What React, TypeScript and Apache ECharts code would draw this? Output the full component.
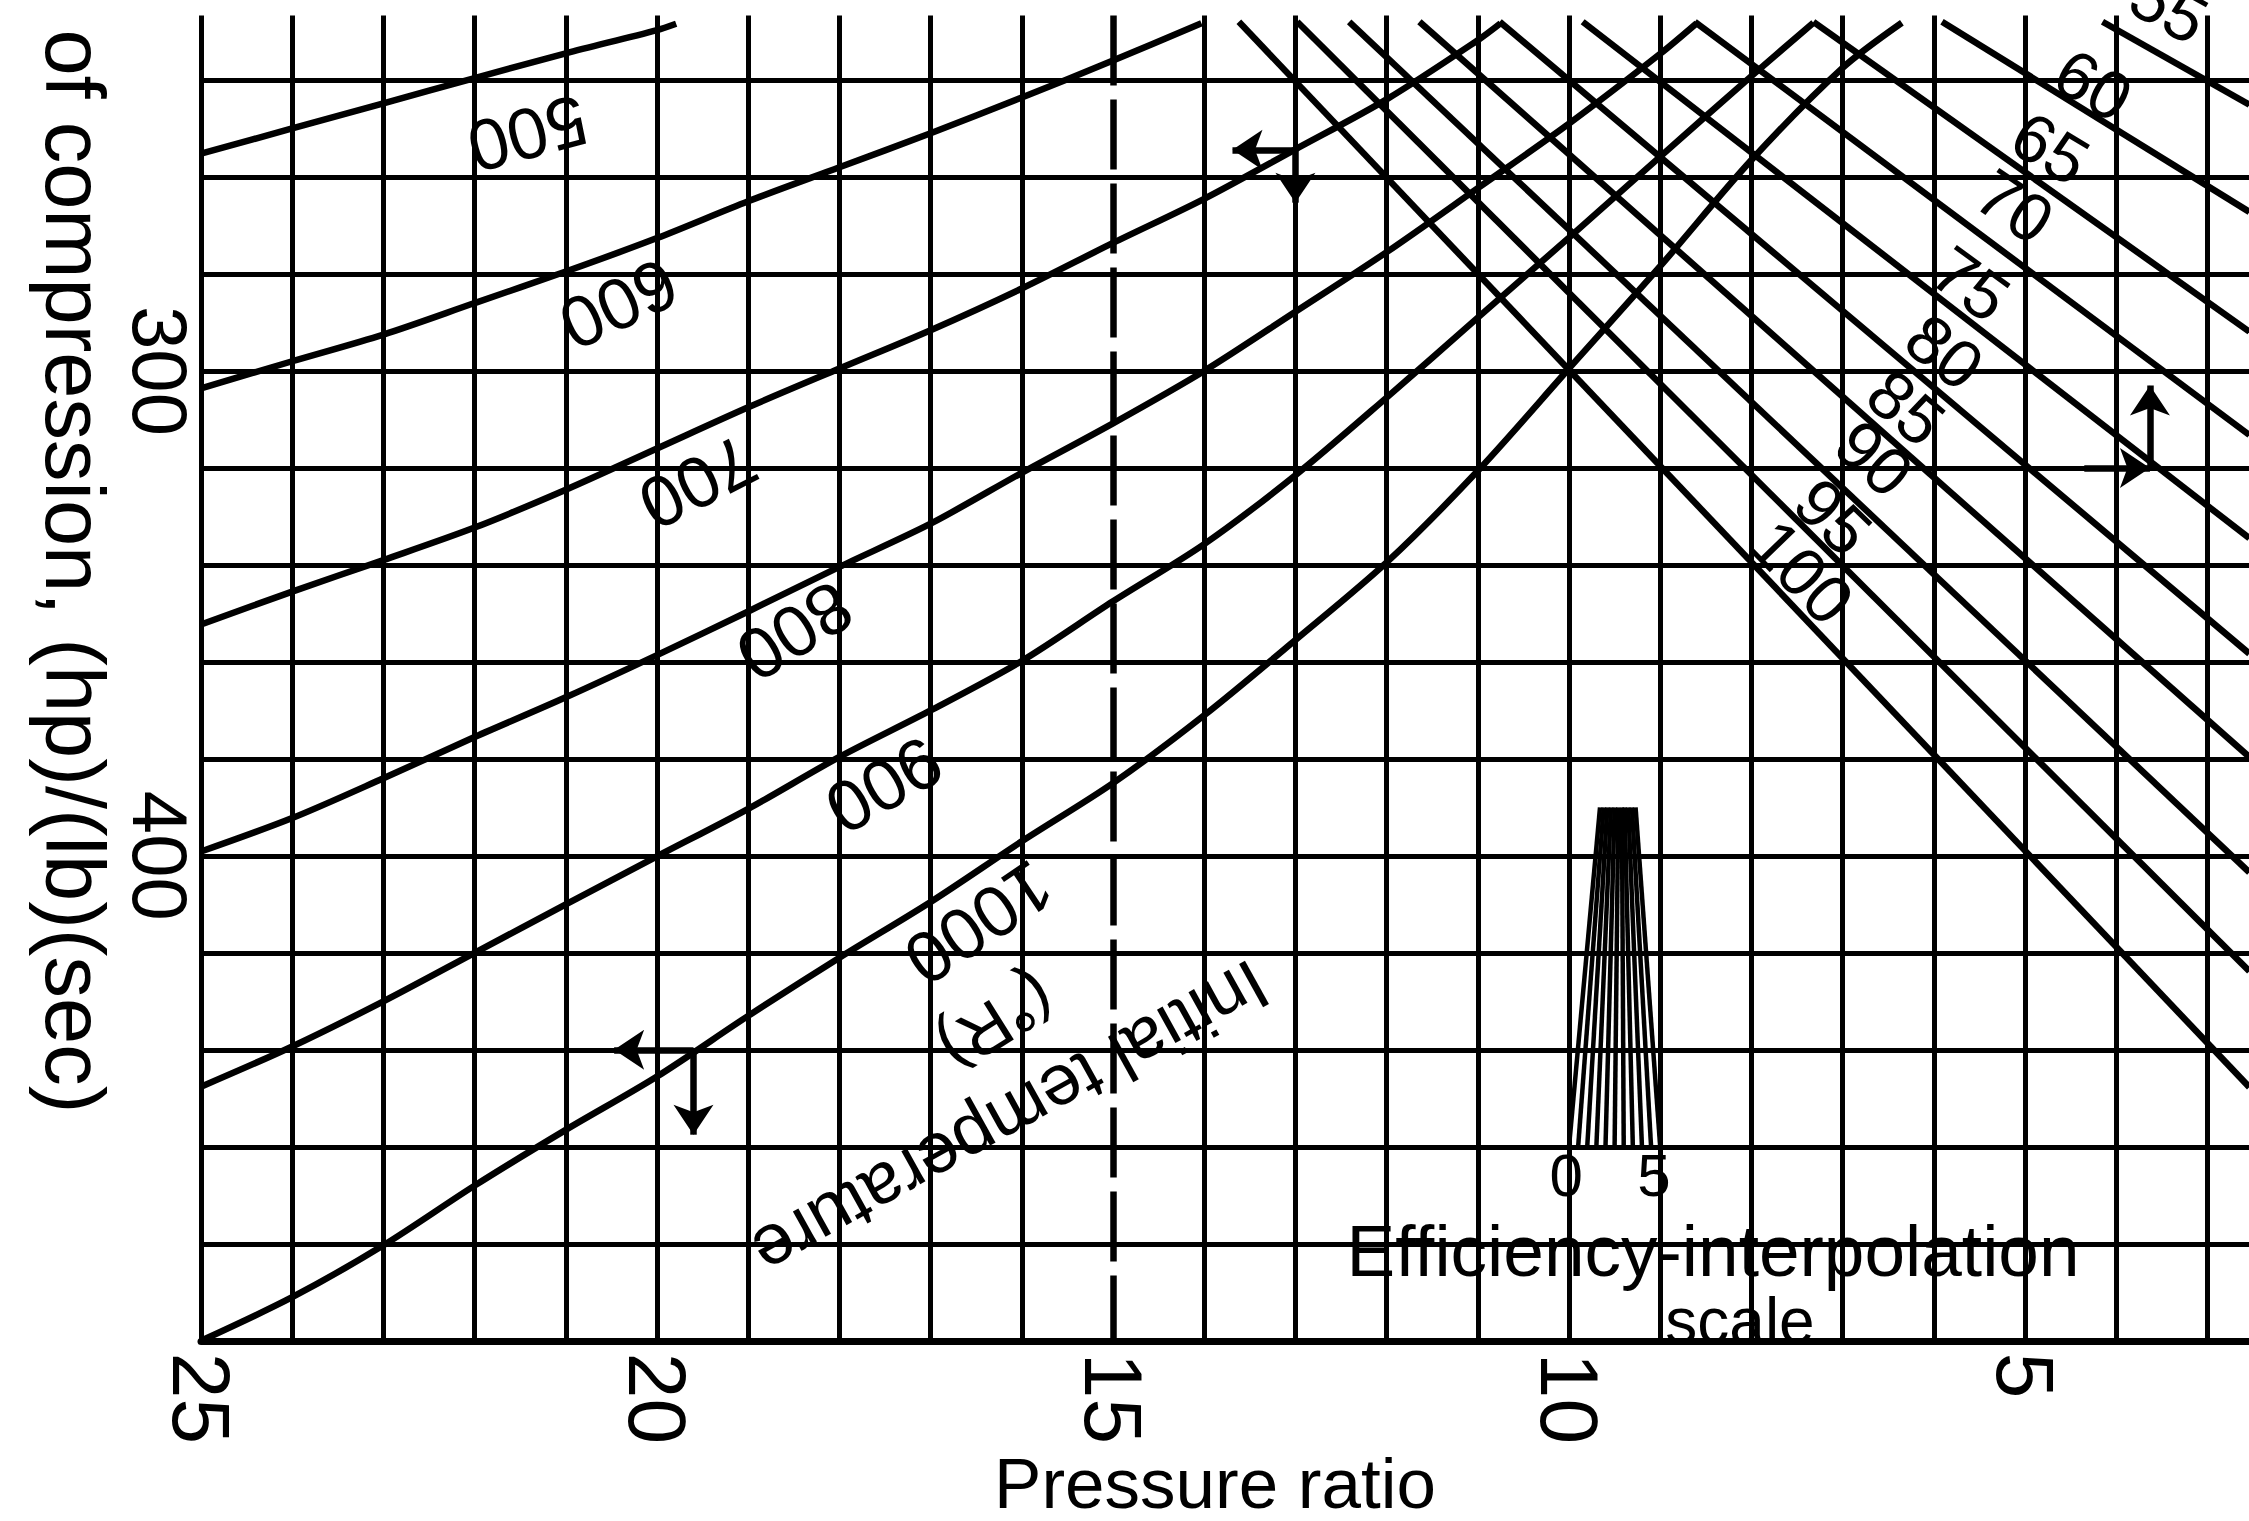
import React, { useEffect, useRef } from "react";
import * as echarts from "echarts";

const FONT = '"Liberation Sans", Arial, sans-serif';

// ---- axes / grid values ----
const xTickLabels = [25, 20, 15, 10, 5];
const yTickLabels = [300, 400];
const pressureGridLines = [25, 24, 23, 22, 21, 20, 19, 18, 17, 16, 14, 13, 12, 11, 10, 9, 8, 7, 6, 5, 4, 3];
const dashedPressureLines = [15];
const gridTopWork = 226.7;
const chartTopWork = 228;
const chartRightRatio = 2.54;

// ---- initial-temperature curves: [pressure ratio, work] ----
const temperatureNames = ["500", "600", "700", "800", "900", "1000"];
const t500 = [[25, 255.2], [24, 250.0], [23, 244.8], [22, 239.6], [21, 234.5], [20, 229.7], [19.79, 228.4]];
const t600 = [[25, 303.6], [24, 298.0], [23, 292.5], [22, 286.0], [21, 279.5], [20, 272.6], [19, 265.0], [18, 258.0], [17, 251.0], [16, 243.6], [15, 236.0], [14.03, 228.3]];
const t700 = [[25, 352.3], [24, 345.5], [23, 339.0], [22, 332.3], [21, 324.5], [20, 316.0], [19, 307.5], [18, 299.5], [17, 291.6], [16, 283.0], [15, 273.6], [14, 264.5], [13, 254.3], [12, 244.0], [11, 231.8], [10.75, 228.3]];
const t800 = [[25, 399.1], [24, 392.2], [23, 384.0], [22, 375.5], [21, 367.3], [20, 358.6], [19, 349.6], [18, 340.4], [17, 331.5], [16, 321.0], [15, 310.8], [14, 300.0], [13, 287.8], [12, 275.5], [11, 262.3], [10, 249.0], [9, 234.6], [8.6, 228.3]];
const t900 = [[25, 447.6], [24, 439.3], [23, 430.0], [22, 420.0], [21, 410.0], [20, 400.1], [19, 390.3], [18, 379.6], [17, 370.0], [16, 359.8], [15, 347.5], [14, 335.7], [13, 321.5], [12, 305.5], [11, 289.0], [10, 272.5], [9, 255.8], [8, 239.2], [7.32, 228.2]];
const t1000 = [[25, 500], [24, 491], [23, 480.3], [22, 468], [21, 456.5], [20, 445.5], [19, 433], [18, 421], [17, 409.5], [16, 397], [15, 385], [14, 371], [13, 355.5], [12, 339.5], [11, 320.6], [10, 299.5], [9, 278.4], [8, 256.5], [7, 237.5], [6.35, 228.2]];
const temperatureCurves = [t500, t600, t700, t800, t900, t1000];

// ---- efficiency lines (percent): start ratio at top edge, work at right edge ----
const efficiencyNames = ["100", "95", "90", "85", "80", "75", "70", "65", "60", "55"];
const efficiencyTopRatio = [13.62, 12.98, 12.41, 11.64, 10.76, 9.85, 8.62, 7.32, 5.91, 4.15];
const efficiencyRightWork = [447.7, 423.8, 403.4, 379.6, 358.3, 334.5, 313.2, 291.9, 267.2, 245.1];

// ---- efficiency-interpolation scale fan ----
const fanBottomRatio = [10, 9.9, 9.8, 9.7, 9.6, 9.5, 9.4, 9.3, 9.2, 9.1, 9.0];
const fanTopRatio = [9.66, 9.62, 9.58, 9.54, 9.5, 9.46, 9.42, 9.39, 9.35, 9.31, 9.27];
const fanBottomWork = 460;
const fanTopWork = 390;
const fanScaleLabels = ["0", "5"];
const fanScaleLabelRatio = [10.03, 9.07];
const fanScaleLabelWork = 466;

// ---- example-path arrows: [from, to] ----
const arrowSegments = [
  [[19.6, 440], [20.47, 440]],
  [[19.6, 440], [19.6, 457.5]],
  [[13.0, 254.4], [13.69, 254.4]],
  [[13.0, 254.4], [13.0, 265.3]],
  [[4.35, 320], [3.63, 320]],
  [[3.63, 320], [3.63, 303]],
];

// ---- label anchors (layout, in data units) and tilts (degrees) ----
const temperatureLabelAt = [[21.42, 251.1], [20.42, 286.2], [19.55, 323.0], [18.49, 353.7], [17.51, 385.4], [16.47, 413.8]];
const temperatureLabelTilt = [195, 205, 207, 212, 210, 214];
const efficiencyLabelAt = [[7.44, 341.4], [7.1, 330], [6.65, 318], [6.3, 307.5], [5.88, 296], [5.59, 282], [5.11, 266], [4.72, 254], [4.25, 241], [3.42, 225]];
const efficiencyLabelTilt = [-46, -44, -42, -40, -38, -36, -34, -31, -30, -29];
const noteLabels = ["Initial temperature", "(°R)"];
const noteLabelAt = [[16.12, 454.3], [16.27, 434.5]];
const noteLabelTilt = [209, 212];

// container is shifted so that the plot can run past the page edges
const OFFSET_Y = 20.4;
const BOX_W = 2300;
const BOX_H = 1541.4;

function buildOption() {
  const black = "#000";
  const series: any[] = [];

  series.push({
    type: "lines",
    coordinateSystem: "cartesian2d",
    silent: true,
    z: 1,
    lineStyle: { color: black, width: 5, opacity: 1 },
    data: pressureGridLines.map((r) => ({ coords: [[r, gridTopWork], [r, 500]] })),
  });
  series.push({
    type: "lines",
    coordinateSystem: "cartesian2d",
    silent: true,
    z: 1,
    lineStyle: { color: black, width: 6.5, opacity: 1, type: [70, 14] },
    data: dashedPressureLines.map((r) => ({ coords: [[r, gridTopWork], [r, 500]] })),
  });

  temperatureCurves.forEach((d, i) => {
    series.push({
      type: "line",
      name: temperatureNames[i] + " R",
      data: d,
      showSymbol: false,
      smooth: 0.3,
      silent: true,
      z: 3,
      lineStyle: { color: black, width: 6.5 },
    });
  });

  series.push({
    type: "lines",
    coordinateSystem: "cartesian2d",
    silent: true,
    z: 3,
    lineStyle: { color: black, width: 6.5, opacity: 1 },
    data: efficiencyTopRatio.map((r, i) => ({
      name: efficiencyNames[i],
      coords: [[r, chartTopWork], [chartRightRatio, efficiencyRightWork[i]]],
    })),
  });

  series.push({
    type: "lines",
    coordinateSystem: "cartesian2d",
    silent: true,
    z: 3,
    lineStyle: { color: black, width: 4.5, opacity: 1 },
    data: fanBottomRatio.map((r, i) => ({ coords: [[r, fanBottomWork], [fanTopRatio[i], fanTopWork]] })),
  });

  series.push({
    type: "lines",
    coordinateSystem: "cartesian2d",
    silent: true,
    z: 4,
    symbol: ["none", "arrow"],
    symbolSize: [0, 30],
    lineStyle: { color: black, width: 6.5, opacity: 1 },
    data: arrowSegments.map((s) => ({ coords: s })),
  });

  return {
    animation: false,
    backgroundColor: "#fff",
    textStyle: { fontFamily: FONT },
    grid: { left: 201, right: BOX_W - 2298.6, top: 0, bottom: BOX_H - (1340.8 + OFFSET_Y), containLabel: false },
    xAxis: {
      type: "value",
      inverse: true,
      min: 2,
      max: 25,
      interval: 1,
      position: "bottom",
      axisLine: { show: true, onZero: false, lineStyle: { color: black, width: 7 } },
      axisTick: { show: false },
      splitLine: { show: false },
      axisLabel: {
        show: true,
        rotate: -90,
        margin: 12,
        color: black,
        fontSize: 82,
        fontFamily: FONT,
        formatter: (v: number) => (xTickLabels.includes(v) ? String(v) : ""),
      },
    },
    yAxis: {
      type: "value",
      inverse: true,
      min: 220,
      max: 500,
      interval: 20,
      axisLine: { show: false, onZero: false },
      axisTick: { show: false },
      splitLine: { show: true, lineStyle: { color: black, width: 5 } },
      axisLabel: {
        show: true,
        rotate: -90,
        margin: 2,
        color: black,
        fontSize: 78,
        fontFamily: FONT,
        formatter: (v: number) => (yTickLabels.includes(v) ? String(v) : ""),
      },
    },
    series,
  };
}

function textEl(text: string, x: number, y: number, deg: number, size: number) {
  return {
    type: "text",
    x,
    y,
    rotation: (deg * Math.PI) / 180,
    z: 10,
    silent: true,
    style: {
      text,
      fontSize: size,
      fontFamily: FONT,
      fill: "#000",
      align: "center",
      verticalAlign: "middle",
      textAlign: "center",
      textVerticalAlign: "middle",
    },
  };
}

export default function App() {
  const ref = useRef<HTMLDivElement>(null);
  useEffect(() => {
    const chart = echarts.init(ref.current as HTMLDivElement, null, { renderer: "svg" });
    chart.setOption(buildOption() as any);
    const toPx = (p: number[]) => chart.convertToPixel({ gridIndex: 0 }, p) as unknown as number[];
    const graphics: any[] = [];

    graphics.push({
      type: "text",
      x: 74,
      y: 29 + OFFSET_Y,
      rotation: -Math.PI / 2,
      z: 10,
      silent: true,
      style: { text: "of compression, (hp)/(lb)(sec)", fontSize: 83, fontFamily: FONT, fill: "#000", align: "left", verticalAlign: "middle", textAlign: "left", textVerticalAlign: "middle" },
    });
    graphics.push(textEl("Pressure ratio", 1215, 1483 + OFFSET_Y, 0, 71));
    graphics.push(textEl("Efficiency-interpolation", 1713, 1250 + OFFSET_Y, 0, 73));
    graphics.push(textEl("scale", 1740, 1321 + OFFSET_Y, 0, 64));

    temperatureNames.forEach((n, i) => {
      const [x, y] = toPx(temperatureLabelAt[i]);
      graphics.push(textEl(n, x, y, temperatureLabelTilt[i], 72));
    });
    efficiencyNames.forEach((n, i) => {
      const [x, y] = toPx(efficiencyLabelAt[i]);
      graphics.push(textEl(n, x, y, efficiencyLabelTilt[i], 68));
    });
    noteLabels.forEach((n, i) => {
      const [x, y] = toPx(noteLabelAt[i]);
      graphics.push(textEl(n, x, y, noteLabelTilt[i], i === 0 ? 72 : 68));
    });
    fanScaleLabels.forEach((n, i) => {
      const [x, y] = toPx([fanScaleLabelRatio[i], fanScaleLabelWork]);
      graphics.push(textEl(n, x, y, 0, 60));
    });

    chart.setOption({ graphic: graphics } as any);
    return () => chart.dispose();
  }, []);
  return (
    <div style={{ position: "fixed", left: 0, top: 0, width: 2249, height: 1521, overflow: "hidden", background: "#fff" }}>
      <div
        ref={ref}
        style={{ position: "absolute", left: 0, top: -OFFSET_Y, width: BOX_W, height: BOX_H, background: "#fff" }}
      />
    </div>
  );
}
